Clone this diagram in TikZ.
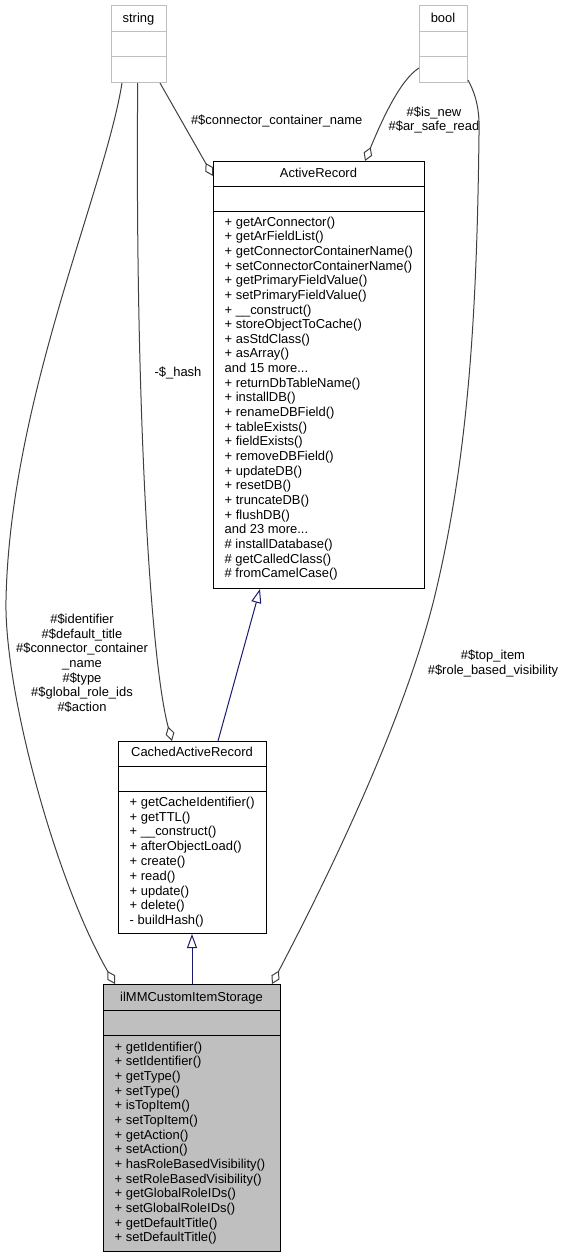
\documentclass[tikz,border=0pt]{standalone}
\usepackage{fontspec}
\setmainfont{Liberation Sans}
\usetikzlibrary{arrows.meta}
\definecolor{edgegray}{HTML}{404040}
\definecolor{inh}{HTML}{191970}
\definecolor{lightbox}{HTML}{BFBFBF}
\definecolor{fillgray}{HTML}{BFBFBF}
\newcommand\mythreedots{...}
\begin{document}
\begin{tikzpicture}[x=1bp,y=-1bp,
  box/.style={draw=black, line width=1bp, rectangle, inner sep=0pt, anchor=north west},
  extbox/.style={draw=lightbox, fill=white, line width=1bp, rectangle, inner sep=0pt, anchor=north west},
  divline/.style={draw=black, line width=1bp},
  extdiv/.style={draw=lightbox, line width=1bp},
  txt/.style={font=\fontsize{13}{14.7}\selectfont, inner sep=0pt},
  ttl/.style={txt, anchor=base},
  meth/.style={txt, anchor=base west},
  lbl/.style={txt, align=center},
  agg/.style={draw=edgegray, line width=1bp, -{Diamond[open,length=15bp,width=9bp]}},
  gen/.style={draw=inh, line width=1bp, -{Triangle[open,length=14bp,width=10bp]}},
]
\useasboundingbox (0,0) rectangle (565,1257);

% string
\node[extbox, minimum width=55bp, minimum height=77bp] (str) at (111,5) {};
\draw[extdiv] ([yshift=-26.7bp]str.north west) -- ([yshift=-26.7bp]str.north east);
\draw[extdiv] ([yshift=-51.7bp]str.north west) -- ([yshift=-51.7bp]str.north east);
\node[ttl] (strT) at (138.5,22.3) {string};

% bool
\node[extbox, minimum width=48bp, minimum height=77bp] (bool) at (419,5) {};
\draw[extdiv] ([yshift=-26.7bp]bool.north west) -- ([yshift=-26.7bp]bool.north east);
\draw[extdiv] ([yshift=-51.7bp]bool.north west) -- ([yshift=-51.7bp]bool.north east);
\node[ttl] (boolT) at (443,22.3) {bool};

% ActiveRecord
\node[box, minimum width=211bp, minimum height=427bp] (ar) at (213,161) {};
\draw[divline] ([yshift=-25bp]ar.north west) -- ([yshift=-25bp]ar.north east);
\draw[divline] ([yshift=-50bp]ar.north west) -- ([yshift=-50bp]ar.north east);
\node[ttl] (arT) at (318.5,177.5) {ActiveRecord};
\foreach \t [count=\i from 0] in {+ getArConnector(), + getArFieldList(), + getConnectorContainerName(), + setConnectorContainerName(), + getPrimaryFieldValue(), + setPrimaryFieldValue(), + \_\_construct(), + storeObjectToCache(), + asStdClass(), + asArray(), and 15 more\mythreedots, + returnDbTableName(), + installDB(), + renameDBField(), + tableExists(), + fieldExists(), + removeDBField(), + updateDB(), + resetDB(), + truncateDB(), + flushDB(), and 23 more\mythreedots, \# installDatabase(), \# getCalledClass(), \# fromCamelCase()}
  \node[meth] (arm\i) at (224.5,226.1+14.65*\i) {\t};

% CachedActiveRecord
\node[box, minimum width=148bp, minimum height=192bp] (car) at (118,741) {};
\draw[divline] ([yshift=-25bp]car.north west) -- ([yshift=-25bp]car.north east);
\draw[divline] ([yshift=-50bp]car.north west) -- ([yshift=-50bp]car.north east);
\node[ttl] (carT) at (192,756.5) {CachedActiveRecord};
\foreach \t [count=\i from 0] in {+ getCacheIdentifier(), + getTTL(), + \_\_construct(), + afterObjectLoad(), + create(), + read(), + update(), + delete(), - buildHash()}
  \node[meth] (carm\i) at (129.5,806.2+14.8*\i) {\t};

% ilMMCustomItemStorage
\node[box, fill=fillgray, minimum width=177bp, minimum height=267bp] (ilmm) at (103,984) {};
\draw[divline] ([yshift=-26bp]ilmm.north west) -- ([yshift=-26bp]ilmm.north east);
\draw[divline] ([yshift=-51bp]ilmm.north west) -- ([yshift=-51bp]ilmm.north east);
\node[ttl] (ilmmT) at (191.5,1001.5) {ilMMCustomItemStorage};
\foreach \t [count=\i from 0] in {+ getIdentifier(), + setIdentifier(), + getType(), + setType(), + isTopItem(), + setTopItem(), + getAction(), + setAction(), + hasRoleBasedVisibility(), + setRoleBasedVisibility(), + getGlobalRoleIDs(), + setGlobalRoleIDs(), + getDefaultTitle(), + setDefaultTitle()}
  \node[meth] (ilmmm\i) at (114.5,1051+14.69*\i) {\t};

% aggregation edges
\draw[agg] ([xshift=11bp]str.south west) .. controls (105,190) and (10,400) .. (6,600)
   .. controls (4,690) and (55,880) .. ([xshift=12bp]ilmm.north west);
\draw[agg] ([xshift=26.7bp]str.south west) .. controls (135,400) and (150,660) .. ([xshift=54bp]car.north west);
\draw[agg] ([xshift=49bp]str.south west) -- ([yshift=-15bp]ar.north west);
\draw[agg] ([yshift=15bp]bool.south west) .. controls (400,80) and (382,120) .. ([xshift=152bp]ar.north west);
\draw[agg] ([yshift=3bp]bool.south east) .. controls (476,95) and (480,110) .. (479,135)
   .. controls (477,300) and (470,450) .. (435,595)
   .. controls (400,740) and (300,930) .. ([xshift=-9bp]ilmm.north east);

% inheritance edges
\draw[gen] ([xshift=100bp]car.north west) -- ([xshift=47bp]ar.south west);
\draw[gen] (ilmm.north) -- (ilmm.north |- car.south);

% edge labels
\node[lbl] (lConn) at (276.7,120.7) {\#\$connector\_container\_name};
\node[lbl] (lBoolAR) at (434,120) {\#\$is\_new\\\#\$ar\_safe\_read};
\node[lbl] (lHash) at (178,373) {-\$\_hash};
\node[lbl] (lLeft) at (82,663) {\#\$identifier\\\#\$default\_title\\\#\$connector\_container\\\_name\\\#\$type\\\#\$global\_role\_ids\\\#\$action};
\node[lbl] (lRight) at (493,663.7) {\#\$top\_item\\\#\$role\_based\_visibility};
\end{tikzpicture}
\end{document}
